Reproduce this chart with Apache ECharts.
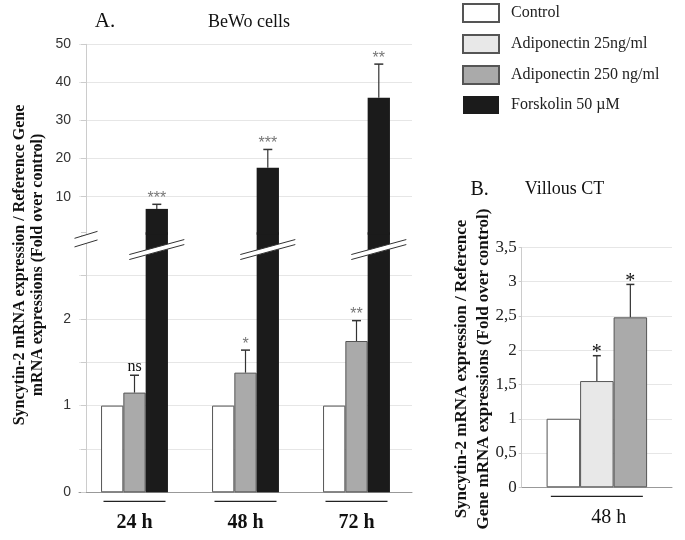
<!DOCTYPE html>
<html><head><meta charset="utf-8">
<script src="https://cdn.jsdelivr.net/npm/echarts@6/dist/echarts.min.js"></script>
<style>html,body{margin:0;padding:0;background:#fff}#c{width:685px;height:540px}</style>
</head><body><div id="c"></div>
<script>
// ---- data (panel A: BeWo cells) ----
const timesA = ['24 h', '48 h', '72 h'];
const controlA = [1, 1, 1];
const adipo250A = [1.15, 1.38, 1.745];
const adipo250SdA = [0.20, 0.26, 0.235];
const adipo250SigA = ['ns', '*', '**'];
const forskolinA = [6.8, 17.6, 36.0];
const forskolinSdA = [1.2, 4.8, 8.8];
const forskolinSigA = ['***', '***', '**'];
const lowTickLabelsA = [0, 1, 2];
const highTickLabelsA = [10, 20, 30, 40, 50];
// ---- data (panel B: Villous CT) ----
const timesB = ['48 h'];
const controlB = [1];
const adipo25B = [1.55];
const adipo25SdB = [0.37];
const adipo25SigB = ['*'];
const adipo250B = [2.48];
const adipo250SdB = [0.48];
const adipo250SigB = ['*'];
const tickLabelsB = ['0', '0,5', '1', '1,5', '2', '2,5', '3', '3,5'];

const NAMES = ['Control', 'Adiponectin 25ng/ml', 'Adiponectin 250 ng/ml', 'Forskolin 50 \u00b5M'];
const SERIF = 'Liberation Serif', SANS = 'Liberation Sans';
const BAR_A = 22.3, BAR_B = 33.5;
const styles = {
  'Control': {color: '#ffffff', borderColor: '#555', borderWidth: 1},
  'Adiponectin 25ng/ml': {color: '#e8e8e8', borderColor: '#555', borderWidth: 1},
  'Adiponectin 250 ng/ml': {color: '#aaaaaa', borderColor: '#555', borderWidth: 1},
  'Forskolin 50 \u00b5M': {color: '#1b1b1b', borderColor: '#1b1b1b', borderWidth: 0}
};

function bar(name, idx, data, w) {
  return {type: 'bar', name, xAxisIndex: idx, yAxisIndex: idx, data, barWidth: w, barGap: '0%',
    itemStyle: styles[name], silent: true};
}
function sigStyleA(s) {
  return s === 'ns' ? {font: '16px ' + SERIF, fill: '#111', dy: 8}
                    : {font: '16px ' + SANS, fill: '#777', dy: 6};
}
function sigStyleB(s) { return {font: '20px ' + SERIF, fill: '#111', dy: 3}; }
function errSeries(idx, means, sds, sigs, offset, cap, sigStyle) {
  return {type: 'custom', xAxisIndex: idx, yAxisIndex: idx, silent: true, z: 5, clip: false,
    data: means.map((m, i) => [i, m, m + sds[i]]),
    renderItem: (params, api) => {
      const b = api.coord([api.value(0), api.value(1)]);
      const t = api.coord([api.value(0), api.value(2)]);
      const cx = b[0] + offset;
      const s = sigs[params.dataIndex];
      const st = sigStyle(s);
      return {type: 'group', children: [
        {type: 'line', shape: {x1: cx, y1: b[1], x2: cx, y2: t[1]}, style: {stroke: '#333', lineWidth: 1.2}},
        {type: 'line', shape: {x1: cx - cap, y1: t[1], x2: cx + cap, y2: t[1]}, style: {stroke: '#333', lineWidth: 1.5}},
        {type: 'text', x: cx, y: t[1] - st.dy, style: {text: s, font: st.font, fill: st.fill,
          align: 'center', verticalAlign: 'middle', textAlign: 'center', textVerticalAlign: 'middle'}}
      ]};
    }};
}

const gridLine = {show: true, lineStyle: {color: '#e6e6e6', width: 1}};
const chart = echarts.init(document.getElementById('c'), null, {renderer: 'canvas'});
chart.setOption({
  animation: false,
  backgroundColor: '#fff',
  legend: {
    data: NAMES, orient: 'vertical', left: 462, top: 3, padding: 0, itemWidth: 36, itemHeight: 18, itemGap: 11,
    icon: 'rect', selectedMode: false,
    textStyle: {fontFamily: SERIF, fontSize: 16, color: '#222', padding: [0, 0, 0, 7]}
  },
  grid: [
    {left: 79, width: 333, top: 232.2, height: 260.1},
    {left: 79, width: 333, top: 44.3, height: 190.5},
    {left: 521.7, width: 150.3, top: 247.4, height: 239.9}
  ],
  xAxis: [
    {type: 'category', gridIndex: 0, data: timesA,
      axisLine: {lineStyle: {color: '#999'}}, axisTick: {show: false},
      axisLabel: {margin: 8, formatter: v => '{u| }\n{t|' + v + '}',
        rich: {u: {width: 62, height: 1.2, lineHeight: 2, backgroundColor: '#222'},
               t: {fontFamily: SERIF, fontWeight: 'bold', fontSize: 20, lineHeight: 42, color: '#111'}}}},
    {type: 'category', gridIndex: 1, data: timesA, show: false},
    {type: 'category', gridIndex: 2, data: timesB,
      axisLine: {lineStyle: {color: '#999'}}, axisTick: {show: false},
      axisLabel: {margin: 8, formatter: v => '{u| }\n{t|' + v + '}',
        rich: {u: {width: 92, height: 1.2, lineHeight: 2, backgroundColor: '#222'},
               t: {fontFamily: SERIF, fontSize: 20, lineHeight: 40, color: '#111', padding: [0, 0, 0, 24]}}}}
  ],
  yAxis: [
    {type: 'value', gridIndex: 0, min: 0, max: 3, interval: 0.5, offset: -7,
      axisLine: {show: true, lineStyle: {color: '#ccc'}}, axisTick: {show: true, length: 5, lineStyle: {color: '#ccc'}},
      splitLine: Object.assign({showMaxLine: false}, gridLine),
      axisLabel: {margin: 15, fontFamily: SANS, fontSize: 14, color: '#333',
        formatter: v => lowTickLabelsA.includes(v) ? String(v) : ''}},
    {type: 'value', gridIndex: 1, min: 0, max: 50, interval: 10, offset: -7,
      axisLine: {show: true, lineStyle: {color: '#ccc'}}, axisTick: {show: true, length: 5, lineStyle: {color: '#ccc'}},
      splitLine: Object.assign({showMinLine: false}, gridLine),
      axisLabel: {margin: 15, fontFamily: SANS, fontSize: 14, color: '#333',
        formatter: v => highTickLabelsA.includes(v) ? String(v) : ''}},
    {type: 'value', gridIndex: 2, min: 0, max: 3.5, interval: 0.5,
      axisLine: {show: true, lineStyle: {color: '#ccc'}}, axisTick: {show: true, length: 3, lineStyle: {color: '#ccc'}},
      splitLine: gridLine,
      axisLabel: {margin: 5, fontFamily: SERIF, fontSize: 17, color: '#222',
        formatter: v => tickLabelsB[Math.round(v * 2)]}}
  ],
  series: [
    bar(NAMES[0], 0, controlA, BAR_A),
    bar(NAMES[2], 0, adipo250A, BAR_A),
    bar(NAMES[3], 0, forskolinA, BAR_A),
    bar(NAMES[0], 2, controlB, BAR_B),
    bar(NAMES[1], 2, adipo25B, BAR_B),
    bar(NAMES[2], 2, adipo250B, BAR_B),
    {type: 'bar', name: 'spacer1', xAxisIndex: 1, yAxisIndex: 1, data: timesA.map(() => null), barWidth: BAR_A, barGap: '0%'},
    {type: 'bar', name: 'spacer2', xAxisIndex: 1, yAxisIndex: 1, data: timesA.map(() => null), barWidth: BAR_A, barGap: '0%'},
    bar(NAMES[3], 1, forskolinA, BAR_A),
    errSeries(0, adipo250A, adipo250SdA, adipo250SigA, 0, 4.5, sigStyleA),
    errSeries(1, forskolinA, forskolinSdA, forskolinSigA, BAR_A, 4.5, sigStyleA),
    errSeries(2, adipo25B, adipo25SdB, adipo25SigB, 0, 4, sigStyleB),
    errSeries(2, adipo250B, adipo250SdB, adipo250SigB, BAR_B, 4, sigStyleB)
  ]
});

// ---- decorations: titles and axis-break marks ----
function txt(x, y, text, font, rot, lh) {
  return {type: 'text', x, y, rotation: rot || 0, z: 50, silent: true,
    style: {text, font, fill: '#111', align: 'center', verticalAlign: 'middle',
      textAlign: 'center', textVerticalAlign: 'middle', lineHeight: lh || undefined}};
}
function breakMark(cx, cy, hw, hd, hg, out) {
  // white band (thick white stroke) with two thin dark edges
  out.push({type: 'line', z: 100, silent: true,
    shape: {x1: cx - hw, y1: cy + hd, x2: cx + hw, y2: cy - hd},
    style: {stroke: '#ffffff', lineWidth: 2 * hg, lineCap: 'butt'}});
  out.push({type: 'line', z: 101, silent: true,
    shape: {x1: cx - hw, y1: cy + hd - hg, x2: cx + hw, y2: cy - hd - hg}, style: {stroke: '#333', lineWidth: 1}});
  out.push({type: 'line', z: 101, silent: true,
    shape: {x1: cx - hw, y1: cy + hd + hg, x2: cx + hw, y2: cy - hd + hg}, style: {stroke: '#333', lineWidth: 1}});
}
const g = [
  txt(105, 21.5, 'A.', '21px ' + SERIF),
  txt(249, 22.3, 'BeWo cells', '18px ' + SERIF),
  txt(479.7, 189.5, 'B.', '20px ' + SERIF),
  txt(564.5, 189.3, 'Villous CT', '18px ' + SERIF),
  txt(29, 265, 'Syncytin-2 mRNA expression / Reference Gene\nmRNA expressions (Fold over control)', 'bold 16px ' + SERIF, Math.PI / 2, 18.5),
  txt(472.5, 369, 'Syncytin-2 mRNA expression / Reference\nGene mRNA expressions (Fold over control)', 'bold 17px ' + SERIF, Math.PI / 2, 21.5)
];
timesA.forEach((_, i) => {
  const p = chart.convertToPixel({xAxisIndex: 0, yAxisIndex: 0}, [i, 2.8]);
  breakMark(p[0] + BAR_A, p[1], 27.5, 7.5, 2.5, g);
});
const yAxisBreak = chart.convertToPixel({yAxisIndex: 0}, 2.92);
const gridRect = chart.getModel().getComponent('grid', 0).coordinateSystem.getRect();
breakMark(gridRect.x + 7, yAxisBreak, 11.5, 3.5, 4.3, g);
chart.setOption({graphic: {elements: g}});
</script>
</body></html>
